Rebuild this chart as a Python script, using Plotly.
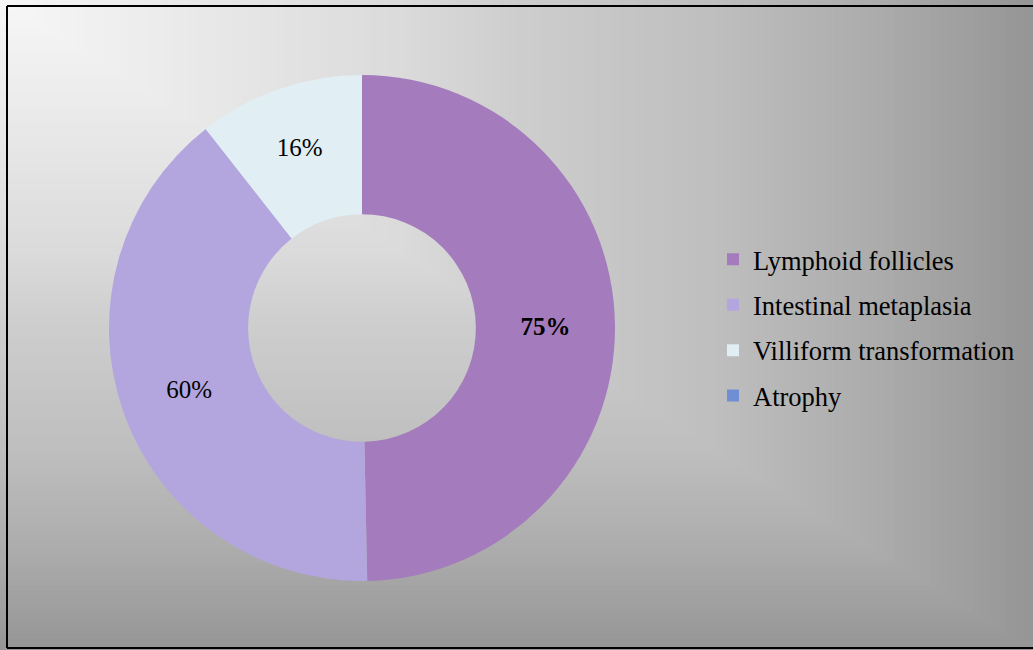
import base64
import plotly.graph_objects as go

# ---- data ----
categories = ["Lymphoid follicles", "Intestinal metaplasia", "Villiform transformation", "Atrophy"]
values = [75, 60, 16, 0]
slice_labels = ["<b>75%</b>", "60%", "16%", ""]
colors = ["#A47BBC", "#B3A6DF", "#E1EEF3", "#708ED4"]

W, H = 1033, 650

# ---- background: rectangular gradient from the top-left corner ----
stops = [(0.0, 247), (0.4, 218), (0.5, 206), (0.7, 190), (0.85, 172), (1.0, 150)]


def grey_at(t):
    for (t0, c0), (t1, c1) in zip(stops[:-1], stops[1:]):
        if t <= t1:
            return c0 + (c1 - c0) * (t - t0) / (t1 - t0)
    return stops[-1][1]


n = 120
rects = []
for i in range(n, 0, -1):
    t = i / n
    g = int(round(grey_at(t)))
    rects.append(
        f'<rect x="0" y="0" width="{t * W:.2f}" height="{t * H:.2f}" fill="rgb({g},{g},{g})"/>'
    )
svg = (
    f'<svg xmlns="http://www.w3.org/2000/svg" width="{W}" height="{H}" '
    f'viewBox="0 0 {W} {H}" preserveAspectRatio="none">' + "".join(rects) + "</svg>"
)
bg_uri = "data:image/svg+xml;base64," + base64.b64encode(svg.encode()).decode()

# ---- figure ----
cx, cy, r = 362, 328, 253
fig = go.Figure()
fig.add_trace(
    go.Pie(
        labels=categories,
        values=values,
        text=slice_labels,
        textinfo="text",
        textposition="inside",
        insidetextorientation="horizontal",
        textfont=dict(family="Liberation Serif", size=25, color="black"),
        marker=dict(colors=colors, line=dict(width=0)),
        hole=0.45,
        sort=False,
        direction="clockwise",
        rotation=0,
        domain=dict(
            x=[(cx - r) / W, (cx + r) / W],
            y=[(H - cy - r) / H, (H - cy + r) / H],
        ),
        hoverinfo="label+value",
        showlegend=False,
    )
)

# legend entries (one group each so the row spacing can be set)
for name, col in zip(categories, colors):
    fig.add_trace(
        go.Scatter(
            x=[None],
            y=[None],
            mode="markers",
            name=name,
            legendgroup=name,
            marker=dict(symbol="square", size=12, color=col),
            showlegend=True,
            hoverinfo="skip",
        )
    )

# frame: left, top and bottom edges (the right edge is cut off in the original)
x_left = 7 / W
y_top = 1 - 6 / H
y_bot = 1 - 648 / H
frame = [
    dict(x0=x_left, x1=x_left, y0=y_bot, y1=y_top),
    dict(x0=x_left, x1=1.0, y0=y_top, y1=y_top),
    dict(x0=x_left, x1=1.0, y0=y_bot, y1=y_bot),
]
shapes = [
    dict(type="line", xref="paper", yref="paper", line=dict(color="black", width=2), **f)
    for f in frame
]

fig.update_layout(
    width=W,
    height=H,
    margin=dict(l=0, r=0, t=0, b=0),
    paper_bgcolor="white",
    plot_bgcolor="rgba(0,0,0,0)",
    xaxis=dict(visible=False),
    yaxis=dict(visible=False),
    showlegend=True,
    legend=dict(
        x=713 / W,
        xanchor="left",
        y=1 - 327.5 / H,
        yanchor="middle",
        font=dict(family="Liberation Serif", size=26.5, color="black"),
        bgcolor="rgba(0,0,0,0)",
        tracegroupgap=8,
        traceorder="grouped",
    ),
    images=[
        dict(
            source=bg_uri,
            xref="paper",
            yref="paper",
            x=0,
            y=1,
            sizex=1,
            sizey=1,
            sizing="stretch",
            xanchor="left",
            yanchor="top",
            layer="below",
        )
    ],
    shapes=shapes,
)

fig.write_html(
    "out.html",
    config={"displayModeBar": False},
    post_script="document.body.style.margin='0';document.body.style.overflow='hidden';",
)
